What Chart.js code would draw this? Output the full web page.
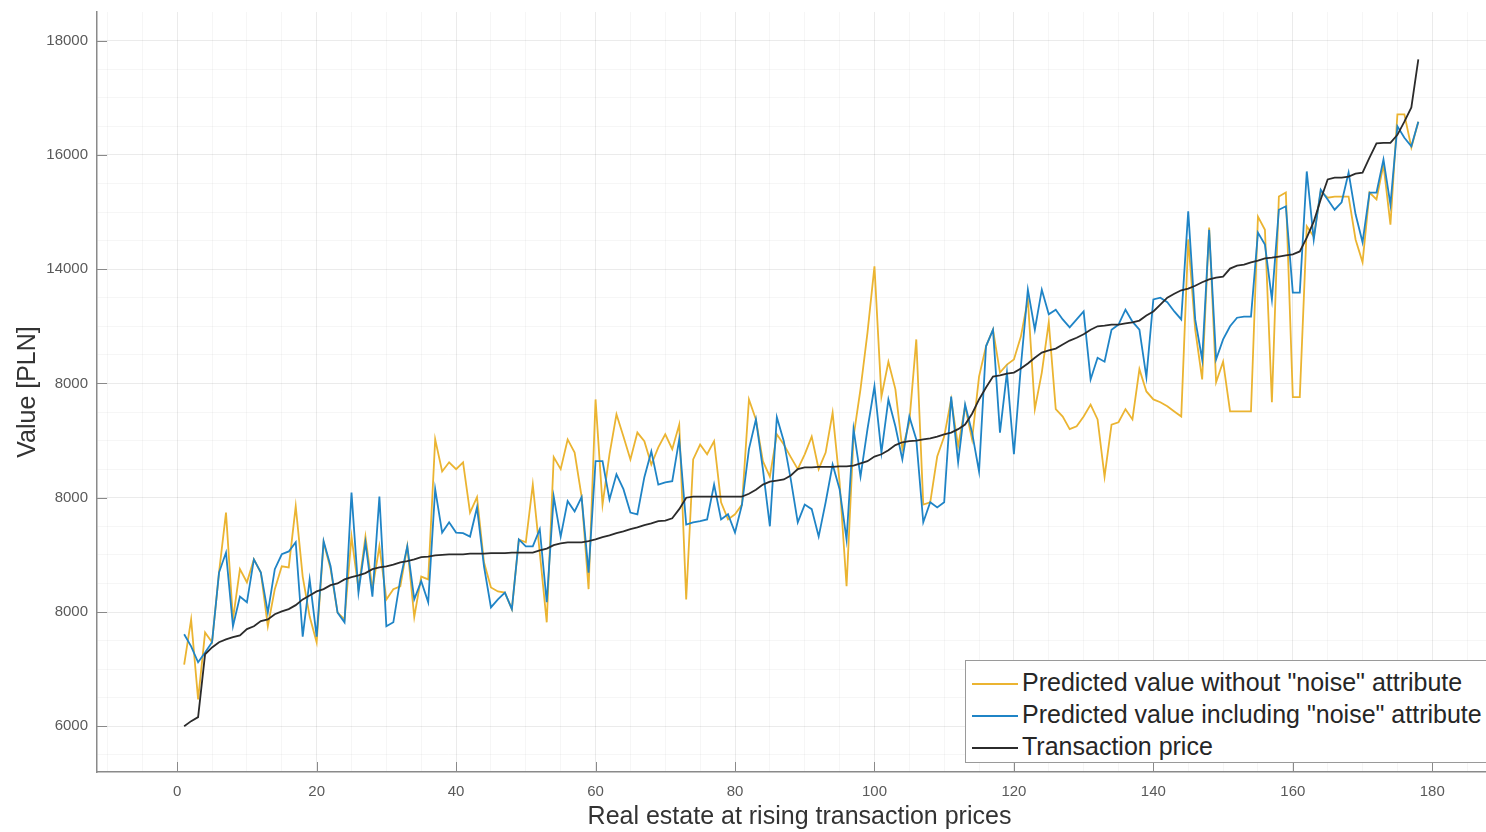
<!DOCTYPE html>
<html>
<head>
<meta charset="utf-8">
<script src="https://cdn.jsdelivr.net/npm/chart.js@4.4.1/dist/chart.umd.min.js"></script>
<style>
html,body{margin:0;padding:0;background:#fff;overflow:hidden;width:1486px;height:832px;}
#wrap{position:absolute;left:0;top:0;width:1510px;height:832px;}
#leyenda{position:absolute;left:965px;top:660px;width:560px;height:101px;border:1px solid #9a9a9a;background:#fff;
  font-family:"Liberation Sans",Arial,sans-serif;font-size:25px;color:#262626;z-index:5;}
#leyenda .fila{position:absolute;left:6px;height:32px;line-height:32px;white-space:nowrap;}
#leyenda .linea{display:inline-block;width:46px;height:0;border-top:2px solid;vertical-align:middle;margin-right:4px;}
</style>
</head>
<body>
<div id="wrap"><canvas id="grafico" width="1510" height="832"></canvas></div>
<div id="leyenda"></div>
<script>
// ticks del eje
var xTicks = [0,20,40,60,80,100,120,140,160,180];
var yTicks = [6000,8000,10000,12000,14000,16000,18000];
var yTickLabels = ["6000","8000","8000","8000","14000","16000","18000"];

// series (x = 1..178)
var sinRuido = [7080,7870,6470,7640,7470,8690,9740,7870,8750,8520,8920,8690,7750,8400,8800,8780,9850,8620,7920,7470,
  9220,8750,7990,7870,9320,8400,9320,8400,9150,8220,8400,8450,9150,7910,8620,8570,11020,10460,10620,10500,
  10620,9740,10010,8870,8430,8360,8340,8050,9270,9220,10230,9040,7820,10710,10500,11020,10790,10020,8400,11720,
  9880,10760,11460,11070,10670,11140,10990,10580,10880,11110,10850,11280,8220,10670,10930,10760,10990,9920,9620,9710,
  9880,11720,11370,10640,10370,11110,10930,10710,10500,10760,11070,10500,10790,11490,10270,8450,11070,11900,12890,14050,
  11770,12380,11900,10850,11320,12770,9880,9920,10720,11070,11720,10900,11600,11020,12120,12650,12940,12190,12330,12420,
  12820,13470,11550,12190,13070,11550,11420,11200,11250,11420,11630,11370,10370,11280,11320,11550,11370,12250,11860,11720,
  11670,11600,11510,11420,14520,12940,12070,14730,12020,12380,11510,11510,11510,11510,14920,14690,11670,15270,15340,11760,
  11760,14750,14570,15360,15250,15270,15270,15270,14520,14120,15340,15220,15830,14780,16710,16710,16130,16580];
var conRuido = [7610,7400,7120,7290,7470,8690,9040,7750,8270,8170,8920,8690,7990,8750,9010,9060,9220,7570,8570,7570,
  9240,8800,7990,7820,10090,8340,9220,8270,10020,7750,7820,8570,9150,8220,8540,8170,10150,9390,9570,9390,
  9380,9320,9830,8800,8080,8220,8340,8050,9270,9150,9150,9450,8170,10020,9320,9940,9760,10010,8690,10640,
  10640,9970,10410,10150,9740,9710,10360,10810,10230,10270,10290,11020,9530,9570,9590,9620,10230,9620,9710,9390,
  9880,10850,11370,10500,9500,11410,10990,10320,9570,9880,9800,9320,9920,10580,10150,9270,11200,10370,11200,11950,
  10790,11720,11250,10670,11420,11020,9570,9920,9830,9920,11770,10620,11630,11140,10460,12650,12940,11140,12190,10760,
  12300,13640,12940,13640,13210,13290,13120,12980,13120,13260,12070,12450,12380,12940,13030,13290,13080,12940,12110,13470,
  13500,13420,13260,13120,15010,13120,12420,14690,12420,12770,13000,13150,13170,13170,14640,14430,13470,15040,15100,13590,
  13590,15710,14520,15390,15220,15040,15170,15690,14960,14470,15340,15340,15920,15130,16500,16300,16150,16580];
var precio = [6000,6090,6160,7260,7380,7470,7520,7560,7590,7700,7750,7840,7870,7960,8010,8050,8120,8220,8290,8360,
  8400,8470,8500,8570,8610,8640,8680,8750,8780,8800,8830,8870,8890,8920,8960,8970,8990,9000,9010,9010,
  9010,9020,9020,9020,9030,9030,9030,9040,9040,9040,9040,9080,9110,9170,9200,9220,9220,9220,9240,9270,
  9310,9340,9380,9410,9450,9480,9520,9550,9590,9600,9640,9800,10000,10020,10020,10020,10020,10020,10020,10020,
  10020,10070,10140,10230,10280,10300,10320,10390,10500,10530,10530,10540,10540,10540,10550,10550,10560,10600,10640,10720,
  10760,10830,10920,10970,10990,11000,11020,11040,11070,11110,11140,11200,11280,11470,11720,11930,12120,12140,12170,12190,
  12260,12350,12450,12540,12580,12610,12680,12750,12800,12860,12940,13000,13010,13030,13030,13050,13070,13100,13190,13260,
  13380,13500,13570,13630,13660,13710,13770,13820,13850,13870,14010,14060,14080,14120,14150,14190,14200,14220,14240,14260,
  14310,14550,14830,15220,15570,15600,15600,15620,15670,15690,15950,16200,16210,16210,16350,16580,16830,17670];

var nombres = ['Predicted value without "noise" attribute','Predicted value including "noise" attribute','Transaction price'];
var colores = ['#ebb431','#1f84c6','#2b2b2b'];

function puntos(serie){
  return serie.map(function(v,i){ return {x:i+1, y:v}; });
}

// lineas de rejilla menores
var xMenores = [];
for (var a = -10; a <= 190; a += 5) xMenores.push(a);
var yMenores = [];
for (var b = 5500; b <= 18000; b += 500) yMenores.push(b);

var marcasDentro = {
  id: 'marcasDentro',
  afterDatasetsDraw: function(chart){
    var ctx = chart.ctx, area = chart.chartArea, sx = chart.scales.x, sy = chart.scales.y;
    ctx.save();
    ctx.strokeStyle = '#8a8a8a';
    ctx.lineWidth = 1;
    ctx.beginPath();
    xTicks.forEach(function(v){
      var px = Math.round(sx.getPixelForValue(v)) + 0.5;
      ctx.moveTo(px, area.bottom); ctx.lineTo(px, area.bottom - 10);
    });
    yTicks.forEach(function(v){
      var py = Math.round(sy.getPixelForValue(v)) + 0.5;
      ctx.moveTo(area.left, py); ctx.lineTo(area.left + 10, py);
    });
    ctx.stroke();
    ctx.restore();
  }
};

var fuente = '"Liberation Sans", Arial, sans-serif';

var ctx = document.getElementById('grafico').getContext('2d');
var chart = new Chart(ctx, {
  type: 'line',
  plugins: [marcasDentro],
  data: {
    datasets: [
      {label: nombres[0], data: puntos(sinRuido), borderColor: colores[0], borderWidth: 1.8, order: 3},
      {label: nombres[1], data: puntos(conRuido), borderColor: colores[1], borderWidth: 1.8, order: 2},
      {label: nombres[2], data: puntos(precio), borderColor: colores[2], borderWidth: 1.8, order: 1}
    ]
  },
  options: {
    responsive: false,
    animation: false,
    parsing: false,
    elements: { point: { radius: 0 }, line: { tension: 0, fill: false } },
    layout: { padding: { left: 0, top: 12, right: 8, bottom: 0 } },
    plugins: { legend: { display: false }, tooltip: { enabled: false } },
    scales: {
      x: {
        type: 'linear', min: -11.5, max: 190,
        afterBuildTicks: function(s){ s.ticks = xMenores.map(function(v){ return {value: v}; }); },
        afterFit: function(s){ s.height = 60; s.paddingLeft = 0; s.paddingRight = 0; },
        border: { color: '#8a8a8a', width: 1.5 },
        grid: {
          drawTicks: false,
          color: function(c){ return xTicks.indexOf(c.tick.value) >= 0 ? 'rgba(0,0,0,0.08)' : 'rgba(0,0,0,0.035)'; }
        },
        ticks: {
          autoSkip: false, maxRotation: 0, padding: 11,
          color: '#5a5a5a', font: { family: fuente, size: 15 },
          callback: function(v){ return xTicks.indexOf(v) >= 0 ? String(v) : ''; }
        },
        title: { display: true, text: 'Real estate at rising transaction prices', color: '#333',
          font: { family: fuente, size: 25 }, padding: { top: 0, bottom: 0 } }
      },
      y: {
        type: 'linear', min: 5200, max: 18500,
        afterBuildTicks: function(s){ s.ticks = yMenores.map(function(v){ return {value: v}; }); },
        afterFit: function(s){ s.width = 97; s.paddingTop = 0; s.paddingBottom = 0; },
        border: { color: '#8a8a8a', width: 1.5 },
        grid: {
          drawTicks: false,
          color: function(c){ return yTicks.indexOf(c.tick.value) >= 0 ? 'rgba(0,0,0,0.08)' : 'rgba(0,0,0,0.035)'; }
        },
        ticks: {
          autoSkip: false, padding: 9,
          color: '#5a5a5a', font: { family: fuente, size: 15 },
          callback: function(v){ var k = yTicks.indexOf(v); return k >= 0 ? yTickLabels[k] : ''; }
        },
        title: { display: true, text: 'Value [PLN]', color: '#333',
          font: { family: fuente, size: 25 }, padding: { top: 13, bottom: 0 } }
      }
    }
  }
});

// leyenda dentro del area
var ley = document.getElementById('leyenda');
nombres.forEach(function(n, i){
  var fila = document.createElement('div');
  fila.className = 'fila';
  fila.style.top = (5 + i * 32) + 'px';
  var l = document.createElement('span');
  l.className = 'linea';
  l.style.borderTopColor = colores[i];
  fila.appendChild(l);
  fila.appendChild(document.createTextNode(n));
  ley.appendChild(fila);
});
</script>
</body>
</html>
